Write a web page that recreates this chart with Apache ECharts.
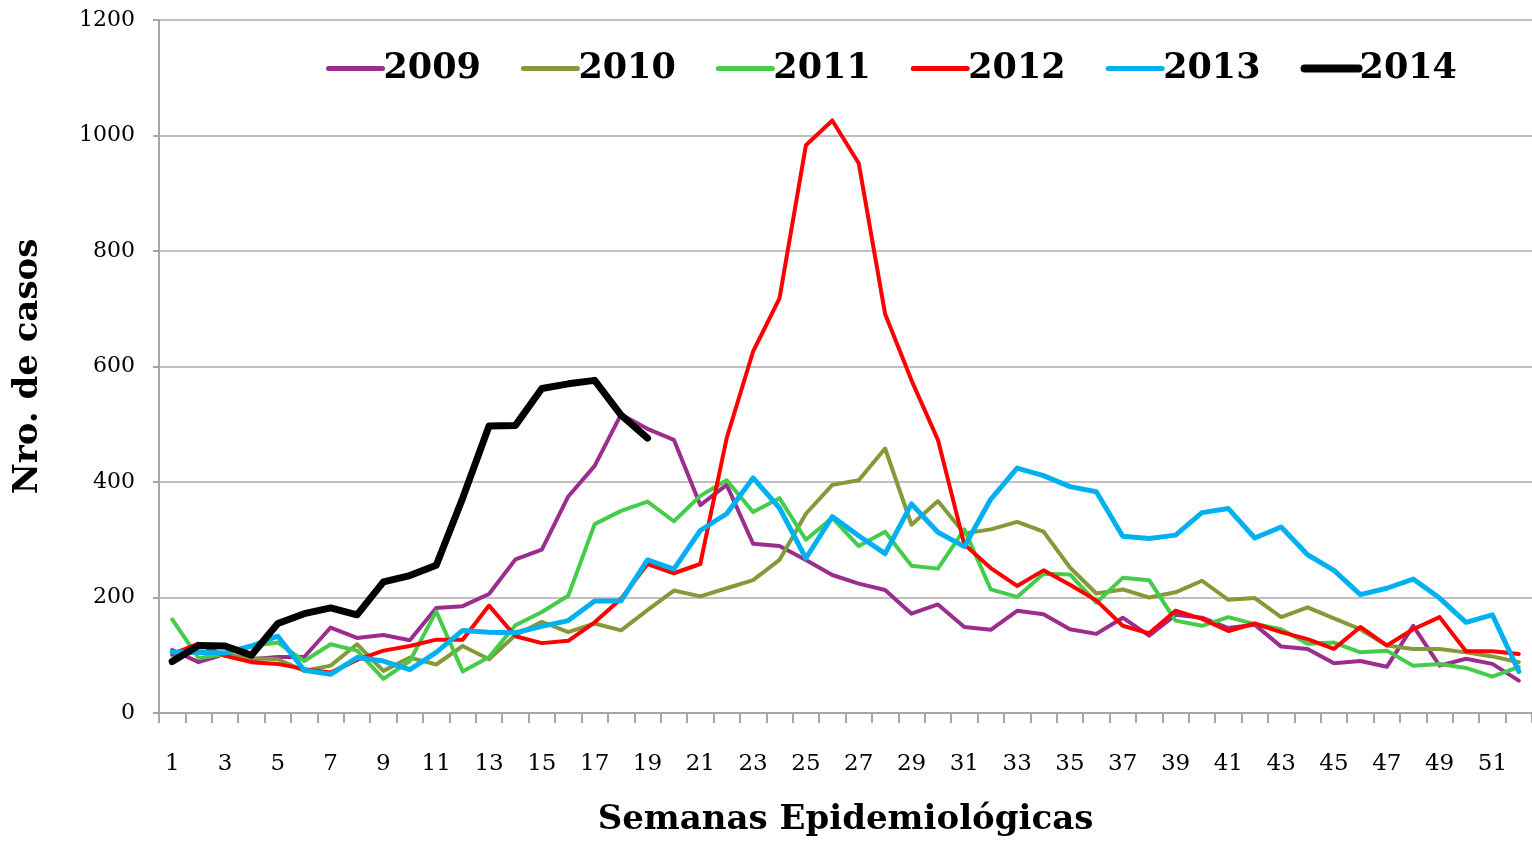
<!DOCTYPE html>
<html>
<head>
<meta charset="utf-8">
<title>Casos por semana epidemiológica</title>
<script src="https://cdn.jsdelivr.net/npm/echarts@6/dist/echarts.min.js"></script>
<style>
  html, body { margin: 0; padding: 0; background: #fff; }
  #chart { width: 1532px; height: 842px; }
</style>
</head>
<body>
<div id="chart"></div>
<script>
// semanas 1..52
var weeks = [];
for (var i = 1; i <= 52; i++) weeks.push(String(i));

var yTicks = [0, 200, 400, 600, 800, 1000, 1200];

var years = ['2009', '2010', '2011', '2012', '2013', '2014'];
var colors = ['#9b2d8e', '#839a38', '#44cc4a', '#ff0000', '#00b0f0', '#000000'];

var y2009 = [109, 88, 102, 93, 97, 97, 148, 130, 135, 126, 182, 185, 206, 266, 283, 375, 428, 517, 492, 473,
  360, 395, 293, 289, 265, 239, 224, 213, 172, 188, 149, 144, 177, 171, 145, 137, 165, 134, 170, 165,
  147, 153, 115, 111, 86, 90, 80, 151, 82, 94, 85, 56];
var y2010 = [100, 105, 100, 95, 93, 73, 82, 119, 73, 96, 84, 116, 93, 135, 158, 140, 155, 143, 178, 212,
  202, 216, 230, 265, 345, 395, 403, 458, 326, 367, 311, 318, 331, 314, 252, 207, 214, 200, 209, 229,
  196, 199, 166, 183, 164, 145, 117, 111, 111, 105, 98, 88];
var y2011 = [162, 95, 102, 116, 122, 90, 119, 108, 59, 90, 176, 72, 97, 152, 175, 203, 327, 350, 366, 332,
  376, 403, 348, 372, 300, 338, 289, 314, 255, 250, 318, 214, 201, 241, 240, 191, 234, 230, 160, 151,
  166, 154, 145, 120, 122, 105, 108, 82, 85, 78, 63, 80];
var y2012 = [102, 120, 99, 88, 85, 76, 70, 92, 108, 116, 127, 127, 186, 133, 121, 125, 157, 198, 258, 242,
  258, 476, 626, 718, 983, 1026, 952, 691, 576, 473, 292, 251, 220, 247, 222, 195, 151, 138, 177, 163,
  142, 155, 140, 128, 111, 149, 117, 145, 166, 107, 107, 102];
var y2013 = [105, 105, 104, 116, 133, 74, 67, 96, 90, 75, 105, 143, 140, 139, 150, 160, 194, 194, 265, 249,
  316, 345, 407, 355, 268, 340, 307, 276, 362, 313, 288, 370, 424, 411, 392, 383, 306, 302, 308, 347,
  354, 303, 322, 274, 247, 205, 216, 232, 199, 157, 170, 72];
var y2014 = [89, 117, 116, 100, 155, 172, 182, 170, 227, 238, 256, 372, 497, 498, 562, 570, 576, 516, 476];

var seriesData = [y2009, y2010, y2011, y2012, y2013, y2014];
var lineWidths = [4, 4, 4, 4, 5, 7];

var font = "'DejaVu Serif', 'Liberation Serif', serif";

var chart = echarts.init(document.getElementById('chart'), null, { renderer: 'canvas' });

chart.setOption({
  animation: false,
  backgroundColor: '#ffffff',
  textStyle: { fontFamily: font },
  legend: {
    left: 321,
    top: 46,
    itemWidth: 54,
    itemHeight: 14,
    itemGap: 40,
    // solo la línea, sin el círculo del símbolo
    itemStyle: { opacity: 0 },
    textStyle: { fontFamily: font, fontSize: 35, fontWeight: 'bold', color: '#000', padding: [0, 0, 0, -4] },
    data: years.map(function (y, i) {
      return { name: y, lineStyle: { width: i === 5 ? 8 : 5, cap: 'round', color: colors[i] } };
    })
  },
  grid: {
    left: 159,
    right: -11,
    top: 20,
    bottom: 125,
    containLabel: false
  },
  xAxis: {
    type: 'category',
    data: weeks,
    boundaryGap: true,
    name: 'Semanas Epidemiológicas',
    nameLocation: 'middle',
    nameGap: 90,
    nameTextStyle: { fontFamily: font, fontSize: 34, fontWeight: 'bold', color: '#000' },
    axisLine: { lineStyle: { color: '#a6a6a6', width: 2 } },
    axisTick: { show: true, interval: 0, length: 10, alignWithLabel: false, lineStyle: { color: '#a6a6a6', width: 2 } },
    axisLabel: { interval: 1, margin: 40, fontFamily: font, fontSize: 23, color: '#000' },
    splitLine: { show: false }
  },
  yAxis: {
    type: 'value',
    min: yTicks[0],
    max: yTicks[yTicks.length - 1],
    interval: 200,
    name: 'Nro. de casos',
    nameLocation: 'middle',
    nameGap: 114,
    nameRotate: 90,
    nameTextStyle: { fontFamily: font, fontSize: 34, fontWeight: 'bold', color: '#000' },
    axisLine: { show: true, lineStyle: { color: '#a6a6a6', width: 2 } },
    axisTick: { show: true, length: 6, lineStyle: { color: '#a6a6a6', width: 2 } },
    axisLabel: {
      margin: 24, fontFamily: font, fontSize: 22, color: '#000',
      formatter: function (v) { return String(v); }
    },
    splitLine: { show: true, lineStyle: { color: '#c0c0c0', width: 2 } }
  },
  series: years.map(function (y, i) {
    return {
      name: y,
      type: 'line',
      data: seriesData[i],
      symbol: 'none',
      lineStyle: { color: colors[i], width: lineWidths[i], join: 'round', cap: 'round' },
      itemStyle: { color: colors[i] }
    };
  })
});
</script>
</body>
</html>
